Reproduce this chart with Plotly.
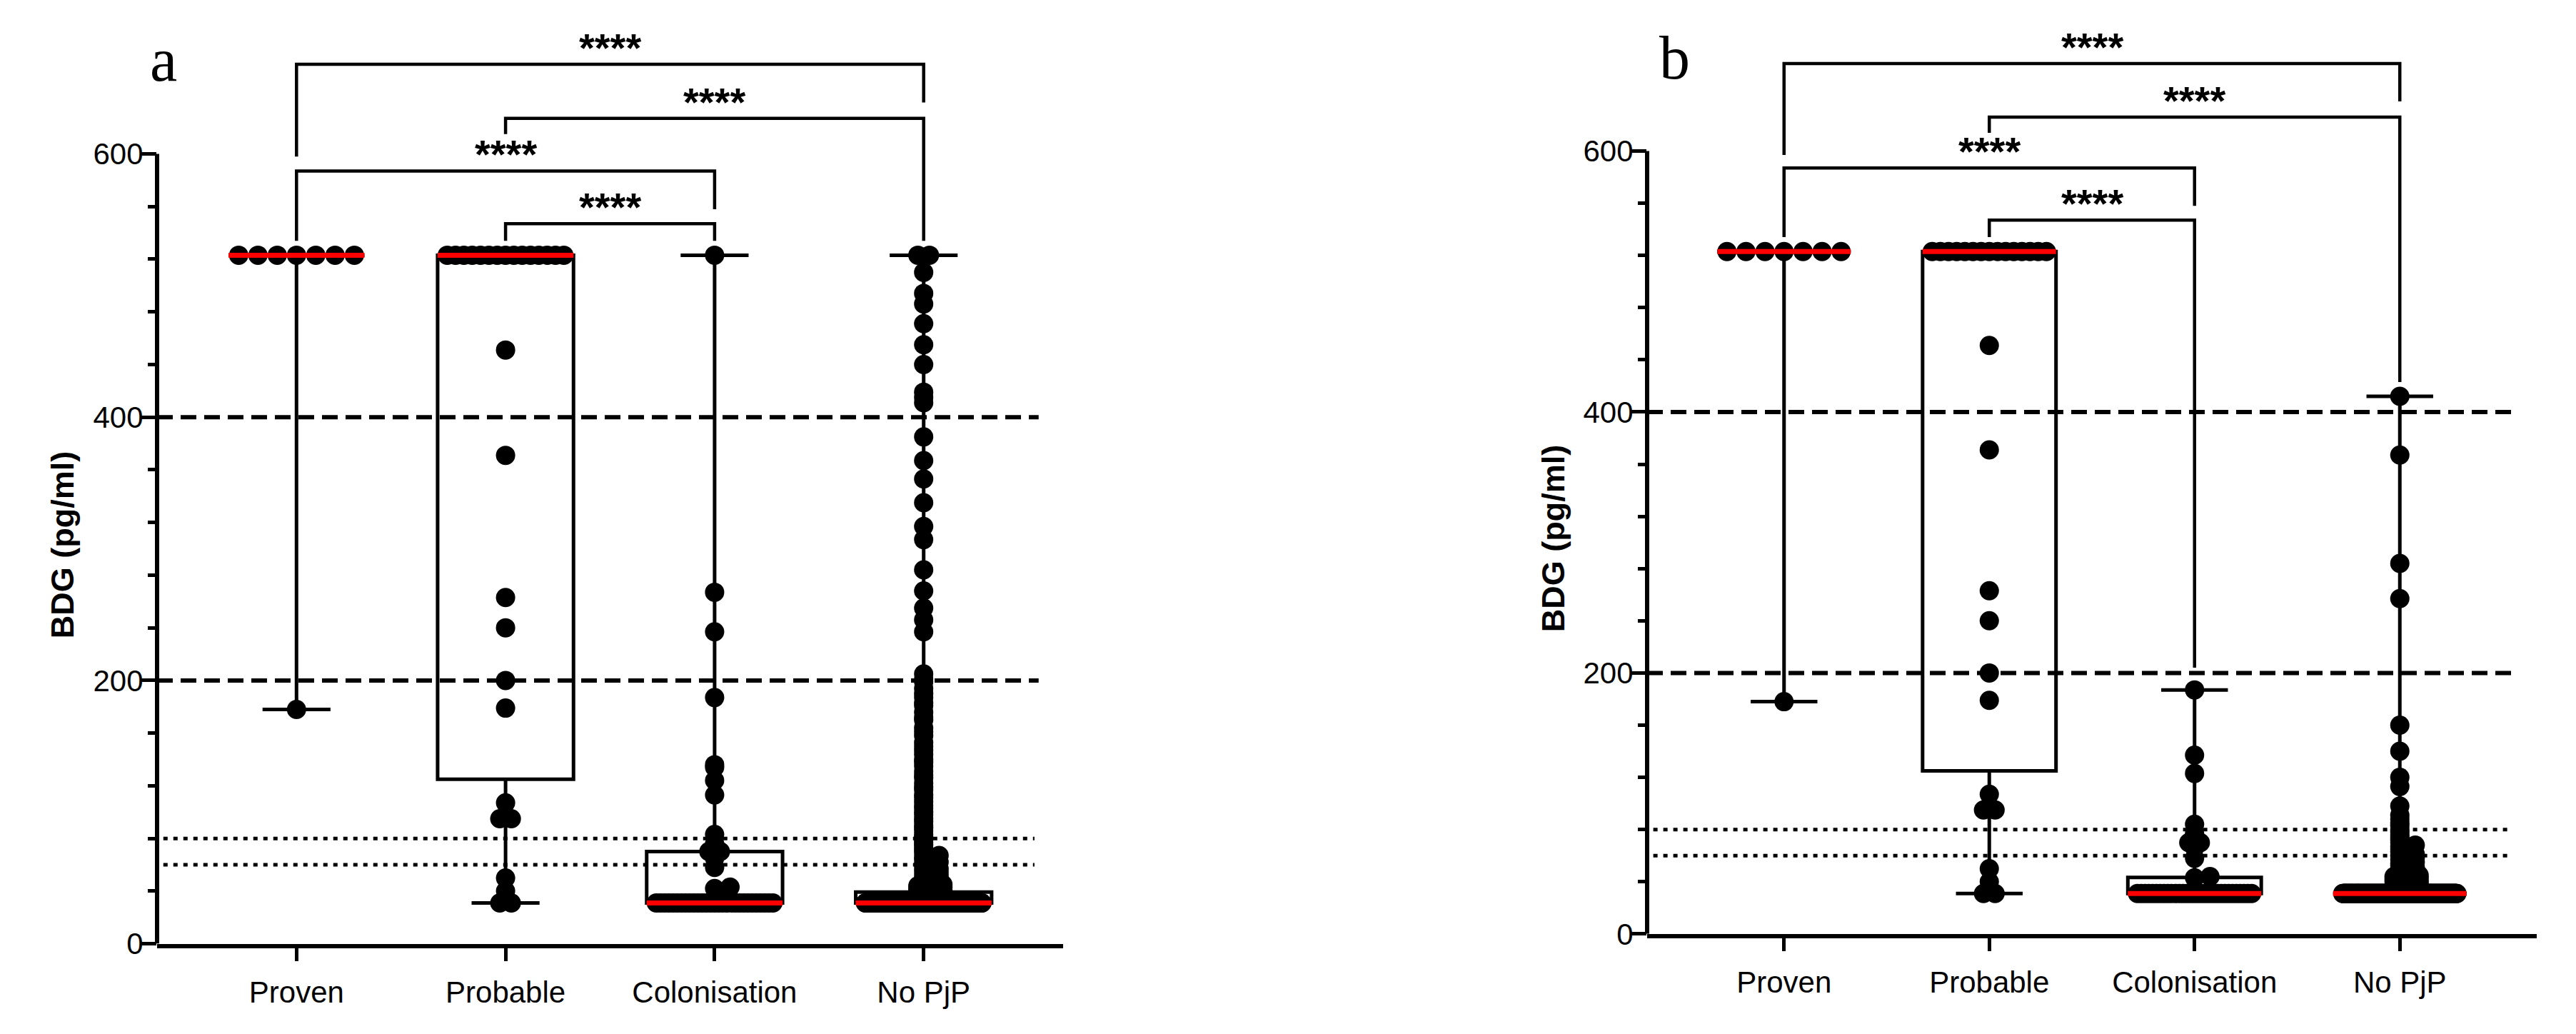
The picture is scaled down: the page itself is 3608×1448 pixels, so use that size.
import numpy as np
import plotly.graph_objects as go

# categories
groups = ["Proven", "Probable", "Colonisation", "No PjP"]

# ---- panel a values (pg/ml) ----
proven_a = [523, 523, 523, 523, 523, 523, 523, 178]
probable_a = [523] * 15 + [451, 371, 263, 240, 200, 179, 107, 95, 95, 50, 40, 31, 31]
colon_a_high = [523, 267, 237, 187, 136, 134, 124, 113, 83, 76, 70, 70, 65, 58, 43, 42]
colon_a_floor_n = 29
nopjp_a_high = [523, 523, 510, 494, 486, 471, 455, 440, 419, 415, 411, 385, 367, 353,
                335, 317, 307, 284, 268, 255, 246, 237]
nopjp_a_mid = [205, 201, 199, 194, 190, 187, 183, 181, 176, 172, 170, 164, 161, 158, 153,
               150, 147, 144, 140, 138, 135, 131, 128, 126, 122, 119, 117, 113, 111, 108,
               105, 103, 100, 98, 95, 93, 90, 88, 86, 83, 81, 79, 77, 75, 73, 71, 69, 67,
               66, 64, 62, 61, 59, 57, 56, 54, 53, 51, 50, 49, 48, 47, 46, 45]
nopjp_a_low = [36, 37, 38, 39, 40, 40, 41, 42, 42, 43, 44, 44]
nopjp_a_floor_n = 280

# ---- panel b values ----
proven_b = [523, 523, 523, 523, 523, 523, 523, 178]
probable_b = [523] * 15 + [451, 371, 263, 240, 200, 179, 107, 95, 95, 50, 40, 31, 31]
colon_b_high = [187, 137, 123, 84, 77, 70, 70, 66, 58, 44, 43]
colon_b_floor_n = 31
nopjp_b_high = [412, 367, 284, 257, 160, 140, 120, 113, 98, 91]
nopjp_b_mid = [88, 85, 83, 80, 78, 76, 74, 72, 70, 68, 67, 65, 63, 61, 60, 58, 57, 55, 54,
               52, 51, 50, 49, 48, 47, 46, 45]
nopjp_b_low = [36, 37, 38, 39, 40, 40, 41, 42, 42, 43, 44, 44]
nopjp_b_floor_n = 329

FLOOR = 31  # lower reporting limit

data_a = [proven_a, probable_a, colon_a_high + [FLOOR] * colon_a_floor_n,
          nopjp_a_high + nopjp_a_mid + nopjp_a_low + [FLOOR] * nopjp_a_floor_n]
data_b = [proven_b, probable_b, colon_b_high + [FLOOR] * colon_b_floor_n,
          nopjp_b_high + nopjp_b_mid + nopjp_b_low + [FLOOR] * nopjp_b_floor_n]

cutoffs_dashed = [200, 400]
cutoffs_dotted = [60, 80]

# significance brackets: (group1, group2, level, left leg end, right leg end)
brackets_a = [(0, 3, 668, 598, 639), (1, 3, 627, 615, 534),
              (0, 2, 587, 534, 558), (1, 2, 547, 534, 534)]
brackets_b = [(0, 3, 667, 597, 638), (1, 3, 626, 614, 423),
              (0, 2, 587, 534, 558), (1, 2, 547, 534, 204)]

# ---- geometry (pixels of the 3608x1448 page) ----
W, H = 3592, 1432
OFF = 8
def fx(px):
    return (px - OFF) / W
def fy(py):
    return 1 - (py - OFF) / H

XR = [-0.667, 3.667]
YTOP = 700
BOXW = 0.65
DOT = 27

panels = [
    dict(data=data_a, br=brackets_a, xl=220, xr=1489, y0=1344, y600=219, label="a",
         lab_x=208, lab_y=118, title_x=87, title_y=776, xa="x", ya="y"),
    dict(data=data_b, br=brackets_b, xl=2307, xr=3553, y0=1330, y600=215, label="b",
         lab_x=2322, lab_y=115, title_x=2175, title_y=767, xa="x2", ya="y2"),
]


def swarm(values, half_w, d, yscale):
    vals = np.asarray(values, float)
    offs = np.zeros(len(vals))
    done = np.zeros(len(vals), bool)
    placed = []
    uniq, counts = np.unique(vals, return_counts=True)
    for u, c in zip(uniq, counts):
        if c > 1:
            idx = np.where(vals == u)[0]
            step = min(d if c > 3 else 0.6 * d, 2 * half_w / (c - 1))
            offs[idx] = (np.arange(c) - (c - 1) / 2) * step
            done[idx] = True
            if c <= 3:
                placed += [(o, u * yscale) for o in offs[idx]]
    for i in np.argsort(vals, kind="stable"):
        if done[i]:
            continue
        y = vals[i] * yscale
        best = None
        for k in range(0, 30):
            for s in ([0] if k == 0 else [k, -k]):
                x = s * d * 0.2
                if abs(x) > half_w:
                    continue
                if all(((x - px) / (0.8 * d)) ** 2 + ((y - py) / (0.12 * d)) ** 2 >= 1
                       for px, py in placed):
                    best = x
                    break
            if best is not None:
                break
        if best is None:
            best = 0.0
        offs[i] = best
        placed.append((best, y))
    return offs


fig = go.Figure()
shapes = []
annotations = []

for p in panels:
    ppx = (p["xr"] - p["xl"]) / (XR[1] - XR[0])
    ppy = (p["y0"] - p["y600"]) / 600.0
    xa, ya = p["xa"], p["ya"]
    for gi, vals in enumerate(p["data"]):
        v = np.asarray(vals, float)
        q1, med, q3 = np.percentile(v, [25, 50, 75], method="weibull")
        fig.add_trace(go.Box(
            x=[gi], q1=[q1], median=[med], q3=[q3],
            lowerfence=[v.min()], upperfence=[v.max()],
            width=BOXW, whiskerwidth=0.5, boxpoints=False,
            line=dict(color="black", width=5), fillcolor="rgba(0,0,0,0)",
            hoverinfo="skip", xaxis=xa, yaxis=ya))
        offs = swarm(v, (BOXW * ppx - DOT) / 2, DOT, ppy)
        fig.add_trace(go.Scatter(
            x=gi + offs / ppx, y=v, mode="markers",
            marker=dict(size=DOT, color="black", line=dict(width=0)),
            hoverinfo="skip", xaxis=xa, yaxis=ya))
        fig.add_trace(go.Scatter(
            x=[gi - BOXW / 2, gi + BOXW / 2], y=[med, med], mode="lines",
            line=dict(color="#ff0000", width=7), hoverinfo="skip", xaxis=xa, yaxis=ya))

    # y axis line only up to 600
    shapes.append(dict(type="line", xref=f"{xa} domain", yref=ya, x0=0, x1=0, y0=0, y1=600,
                       line=dict(color="black", width=6)))
    for c in cutoffs_dashed:
        shapes.append(dict(type="line", xref=xa, yref=ya, x0=XR[0], x1=3.55, y0=c, y1=c,
                           line=dict(color="black", width=6, dash="22px,11px")))
    for c in cutoffs_dotted:
        shapes.append(dict(type="line", xref=xa, yref=ya, x0=XR[0] + 0.03, x1=3.53, y0=c, y1=c,
                           line=dict(color="black", width=5, dash="6px,8px")))
    for g1, g2, lev, e1, e2 in p["br"]:
        shapes.append(dict(type="path", xref=xa, yref=ya,
                           path=f"M {g1},{e1} L {g1},{lev} L {g2},{lev} L {g2},{e2}",
                           line=dict(color="black", width=4.5)))
        annotations.append(dict(x=(g1 + g2) / 2, y=lev, xref=xa, yref=ya, text="<b>****</b>",
                                showarrow=False, yanchor="bottom", yshift=-10,
                                font=dict(family="Liberation Sans, Arial", size=56, color="black")))
    annotations.append(dict(x=fx(p["lab_x"]), y=fy(p["lab_y"] + 18), xref="paper", yref="paper",
                            text=p["label"], showarrow=False, xanchor="left", yanchor="bottom",
                            font=dict(family="Liberation Serif, Times New Roman", size=86,
                                      color="black")))
    annotations.append(dict(x=fx(p["title_x"]), y=fy(p["title_y"]), xref="paper", yref="paper",
                            text="<b>BDG (pg/ml)</b>", textangle=-90, showarrow=False,
                            xanchor="center", yanchor="middle",
                            font=dict(family="Liberation Sans, Arial", size=45, color="black")))

    axis_font = dict(family="Liberation Sans, Arial", size=42, color="black")
    xkey = "xaxis" if xa == "x" else "xaxis2"
    ykey = "yaxis" if ya == "y" else "yaxis2"
    fig.update_layout(**{
        xkey: dict(domain=[fx(p["xl"]), fx(p["xr"])], range=XR, anchor=ya,
                   tickmode="array", tickvals=list(range(len(groups))), ticktext=groups,
                   ticks="outside", ticklen=18, tickwidth=5, tickcolor="black",
                   showline=True, linewidth=6, linecolor="black", ticklabelstandoff=8,
                   showgrid=False, zeroline=False, tickfont=axis_font),
        ykey: dict(domain=[fy(p["y0"]), fy(p["y0"] - YTOP * ppy)], range=[0, YTOP], anchor=xa,
                   tickmode="array", tickvals=[0, 200, 400, 600], ticklabelstandoff=-11,
                   ticks="outside", ticklen=21, tickwidth=5, tickcolor="black",
                   minor=dict(tickmode="array",
                              tickvals=[40, 80, 120, 160, 240, 280, 320, 360, 440, 480, 520, 560],
                              ticks="outside", ticklen=12, tickwidth=5, tickcolor="black"),
                   showline=False, showgrid=False, zeroline=False, tickfont=axis_font),
    })

fig.update_layout(width=W, height=H, margin=dict(l=0, r=0, t=0, b=0),
                  paper_bgcolor="white", plot_bgcolor="white", showlegend=False,
                  shapes=shapes, annotations=annotations)

fig.write_html("out.html")
